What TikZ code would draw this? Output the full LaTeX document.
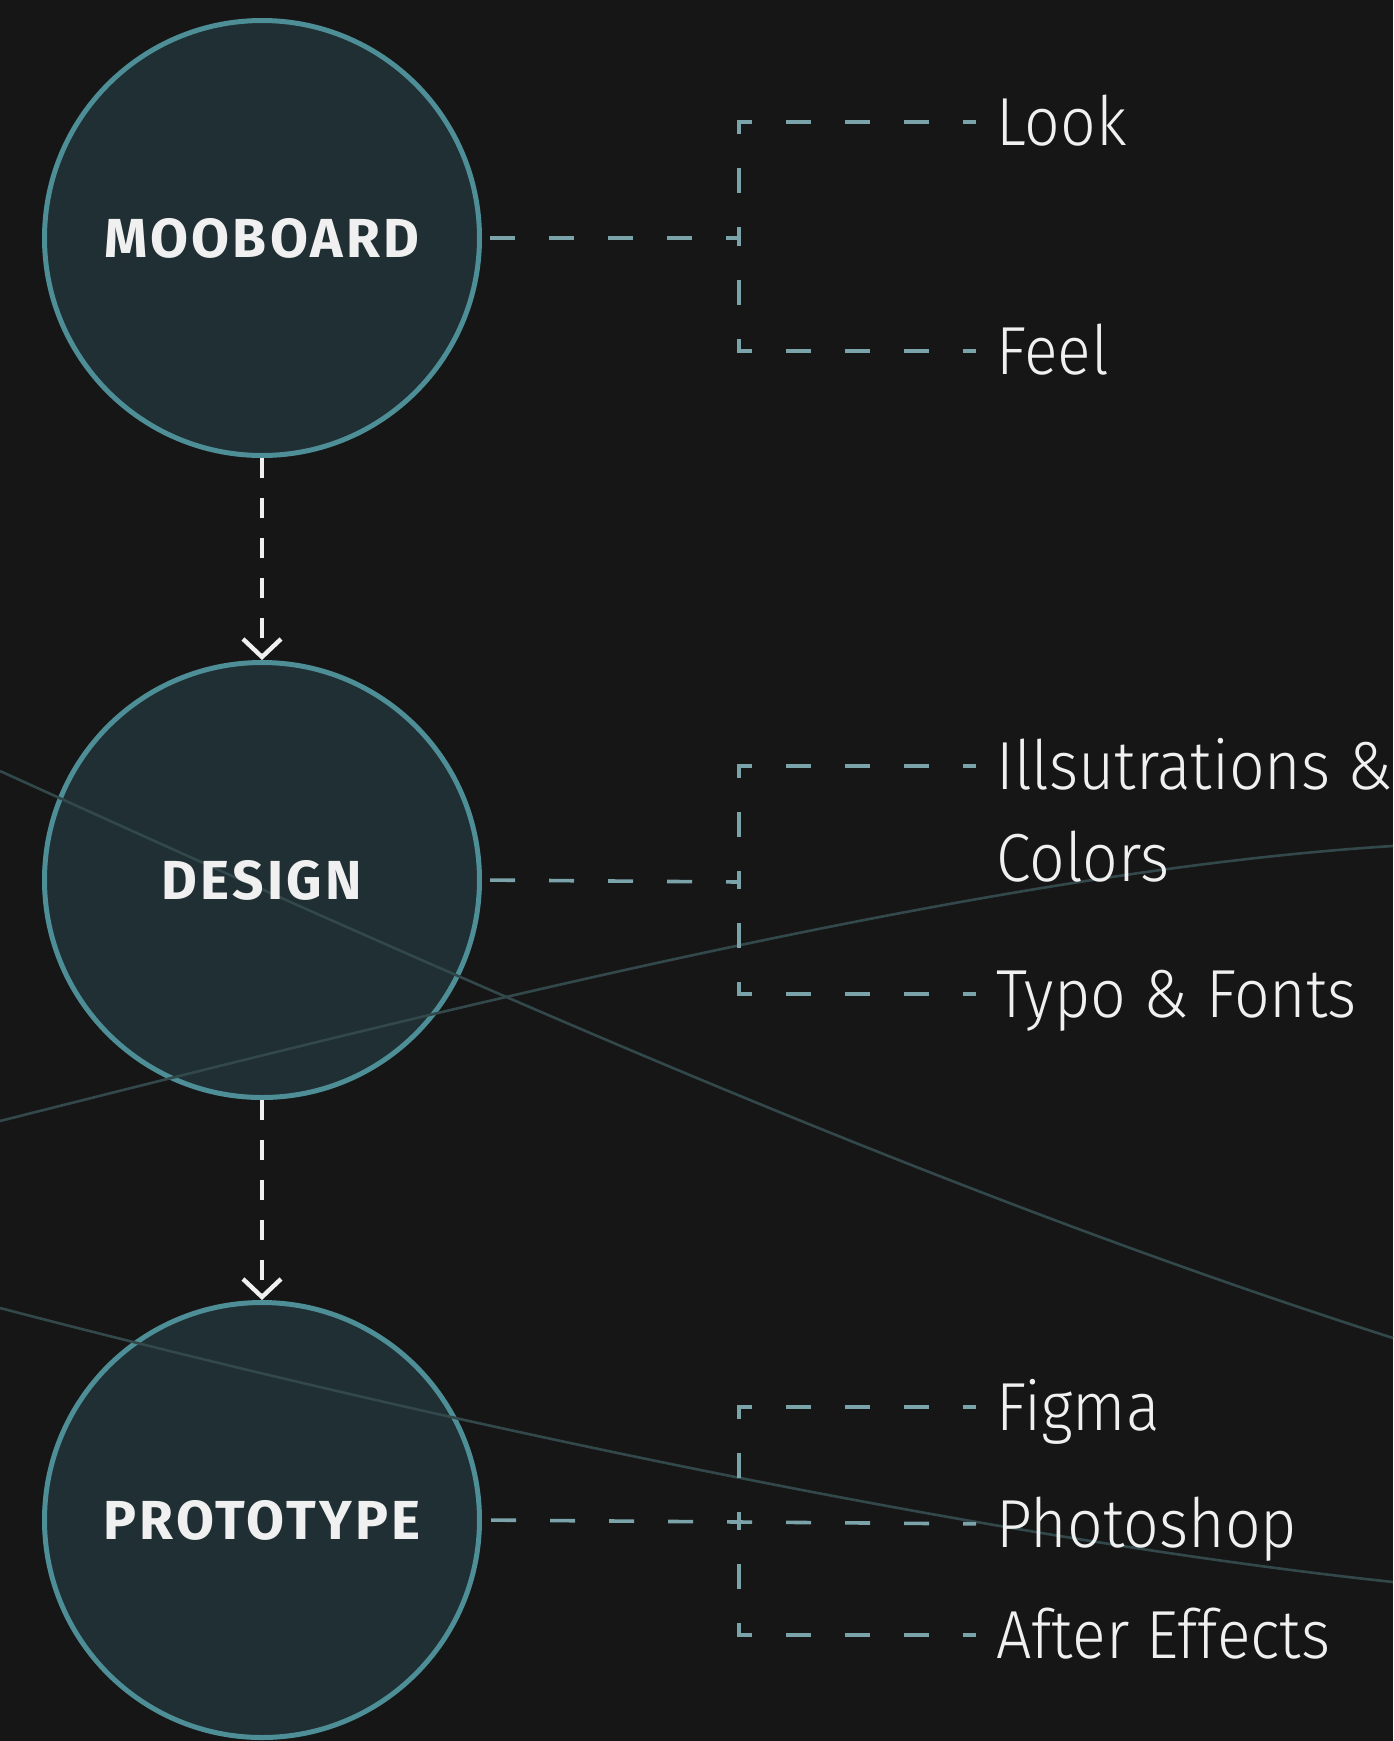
\documentclass[tikz,border=0pt]{standalone}
\usepackage{fontspec}
\setmainfont{Fira Sans}
\newfontfamily\leaffont[FakeStretch=0.92]{Fira Sans Light}
\newfontfamily\stagefont[LetterSpace=6.0]{Fira Sans Bold}
\definecolor{night}{HTML}{161616}
\definecolor{disc}{HTML}{1F2F34}
\definecolor{rim}{HTML}{4D8E97}
\definecolor{twigcol}{HTML}{7AA3AA}
\definecolor{swirlcol}{HTML}{33484A}
\definecolor{ink}{HTML}{F0F0F0}
\usetikzlibrary{arrows.meta}
\usetikzlibrary{positioning}
\tikzstyle{stage}=[circle, minimum size=217.5pt, inner sep=0pt, fill=disc, draw=rim, line width=2.5pt]
\tikzstyle{title}=[inner sep=0pt, text=ink, text height=19pt, text depth=0pt, font=\stagefont\fontsize{27.5}{30}\selectfont]
\tikzstyle{leaf}=[anchor=west, inner sep=0pt, text=ink, text height=23.4pt, text depth=0pt, font=\leaffont\fontsize{34}{45}\selectfont]
\tikzstyle{twig}=[draw=twigcol, line width=1.8pt, dash pattern=on 12.5pt off 17pt, dash phase=6pt, shorten <=10pt]
\tikzstyle{flow}=[draw=ink, line width=2.2pt, dash pattern=on 10pt off 10pt, -{Straight Barb[length=9pt, width=19pt, line width=2.2pt]}]
\tikzstyle{swirl}=[draw=swirlcol, line width=1.3pt]

\begin{document}
\begin{tikzpicture}[x=0.5pt, y=-0.5pt]
    \useasboundingbox (0,0) rectangle (1393,1741);
    \fill [night] (0,0) rectangle (1393,1741);

    \node [stage] (mood) at (262,238) {};
    \node [stage] (design) at (262,880) {};
    \node [stage] (proto) at (262,1520) {};

    \draw [swirl] (0,771) .. controls (460,980) and (930,1190) .. (1393,1338);
    \draw [swirl] (0,1121) .. controls (460,1005) and (1000,870) .. (1393,846);
    \draw [swirl] (0,1308) .. controls (460,1428) and (1000,1540) .. (1393,1582);

    \node [title] (moodtitle) at (mood) {MOOBOARD};
    \node [title] (designtitle) at (design) {DESIGN};
    \node [title] (prototitle) at (proto) {PROTOTYPE};

    \draw [flow] (mood.south) -- (design.north);
    \draw [flow] (design.south) -- (proto.north);

    \node [leaf] (look) at (996,122) {Look};
    \node [leaf] (feel) at (996,351) {Feel};
    \coordinate (moodjoint) at (739,238);
    \draw [twig] (look.west) -| (moodjoint);
    \draw [twig] (feel.west) -| (moodjoint);
    \draw [twig, shorten <=0pt] (moodjoint) -- (mood.east);

    \node [leaf] (illus) at (996,766) {Illsutrations \&};
    \node [leaf, below=22pt of illus.south west, anchor=north west] (colors) {Colors};
    \node [leaf] (typo) at (996,994) {Typo \& Fonts};
    \coordinate (designjoint) at (739,882);
    \draw [twig] (illus.west) -| (designjoint);
    \draw [twig] (typo.west) -| (designjoint);
    \draw [twig, shorten <=0pt] (designjoint) -- (design.east);

    \node [leaf] (figma) at (996,1407) {Figma};
    \node [leaf] (photo) at (996,1524) {Photoshop};
    \node [leaf] (after) at (996,1635) {After Effects};
    \coordinate (protojoint) at (739,1524);
    \draw [twig] (figma.west) -| (protojoint);
    \draw [twig] (after.west) -| (protojoint);
    \draw [twig] (photo.west) -- (proto.east);
\end{tikzpicture}
\end{document}
